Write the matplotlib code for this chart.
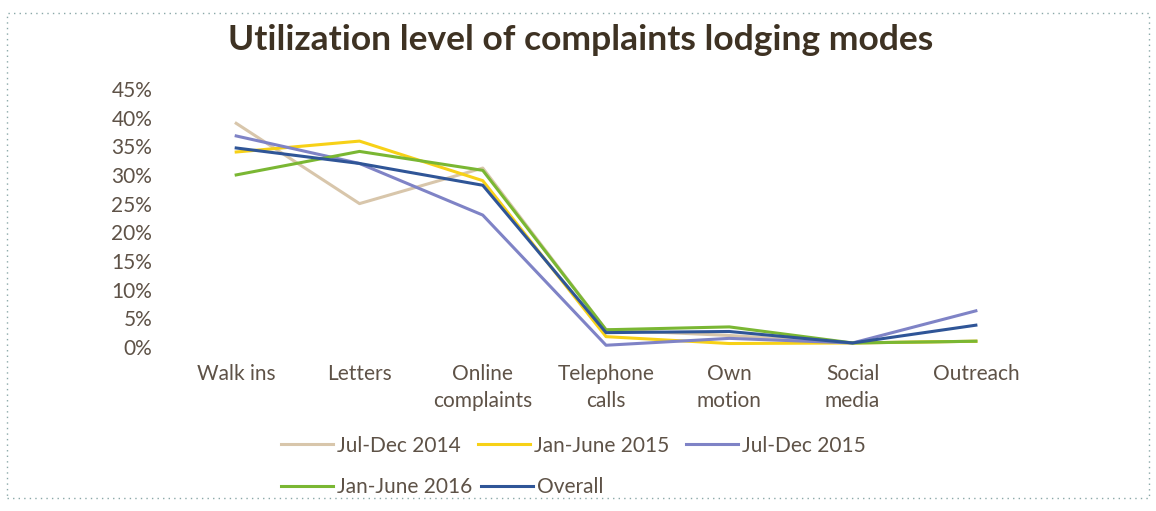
import matplotlib.pyplot as plt
from matplotlib.patches import Rectangle

categories = ["Walk ins", "Letters", "Online\ncomplaints", "Telephone\ncalls",
              "Own\nmotion", "Social\nmedia", "Outreach"]
series_names = ["Jul-Dec 2014", "Jan-June 2015", "Jul-Dec 2015", "Jan-June 2016", "Overall"]
jul_dec_2014 = [0.39, 0.25, 0.312, 0.03, 0.02, 0.007, 0.01]
jan_jun_2015 = [0.34, 0.359, 0.29, 0.018, 0.006, 0.007, 0.01]
jul_dec_2015 = [0.368, 0.32, 0.23, 0.003, 0.015, 0.007, 0.063]
jan_jun_2016 = [0.30, 0.341, 0.308, 0.03, 0.035, 0.007, 0.01]
overall = [0.347, 0.32, 0.282, 0.025, 0.027, 0.007, 0.038]
yticks = [0, 0.05, 0.10, 0.15, 0.20, 0.25, 0.30, 0.35, 0.40, 0.45]

colors = ["#d8c6ab", "#f7d117", "#7f83c6", "#7ab733", "#2f5597"]
text_col = "#5e5247"
font = "Lato"
fs = 15

fig = plt.figure(figsize=(11.56, 5.11), dpi=100)
ax = fig.add_axes([0.151, 0.321, 0.7465, 0.505])

x = list(range(len(categories)))
data = [jul_dec_2014, jan_jun_2015, jul_dec_2015, jan_jun_2016, overall]
for name, vals, c in zip(series_names, data, colors):
    ax.plot(x, vals, color=c, lw=2.2, label=name)

ax.set_xlim(-0.5, len(categories) - 0.5)
ax.set_ylim(0, 0.45)
ax.set_yticks(yticks)
ax.set_yticklabels([f"{int(round(v * 100))}%" for v in yticks],
                   fontsize=fs, color=text_col, family=font)
ax.set_xticks(x)
ax.set_xticklabels(categories, fontsize=fs, color=text_col, family=font,
                   linespacing=1.45, va="top")
ax.tick_params(length=0, axis="y", pad=16)
ax.tick_params(length=0, axis="x", pad=12)
for s in ax.spines.values():
    s.set_visible(False)

fig.text(0.502, 0.922, "Utilization level of complaints lodging modes",
         ha="center", va="center", fontsize=25.5, fontweight="bold",
         color="#3e3223", family=font)

h, l = ax.get_legend_handles_labels()
leg1 = fig.legend(h[:3], l[:3], loc="center left", bbox_to_anchor=(0.227, 0.128),
                  ncol=3, frameon=False, handlelength=2.5,
                  handletextpad=0.2, columnspacing=0.8,
                  prop={"family": font, "size": fs})
for t in leg1.get_texts():
    t.set_color(text_col)
leg2 = fig.legend(h[3:], l[3:], loc="center left", bbox_to_anchor=(0.227, 0.047),
                  ncol=2, frameon=False, handlelength=2.5,
                  handletextpad=0.2, columnspacing=0.4,
                  prop={"family": font, "size": fs})
for t in leg2.get_texts():
    t.set_color(text_col)

border = Rectangle((0.006, 0.025), 0.988, 0.95, transform=fig.transFigure,
                   fill=False, ls=(0, (1, 3)), lw=1, edgecolor="#8aa8a8")
fig.patches.append(border)

fig.savefig("out.png", dpi=100)
